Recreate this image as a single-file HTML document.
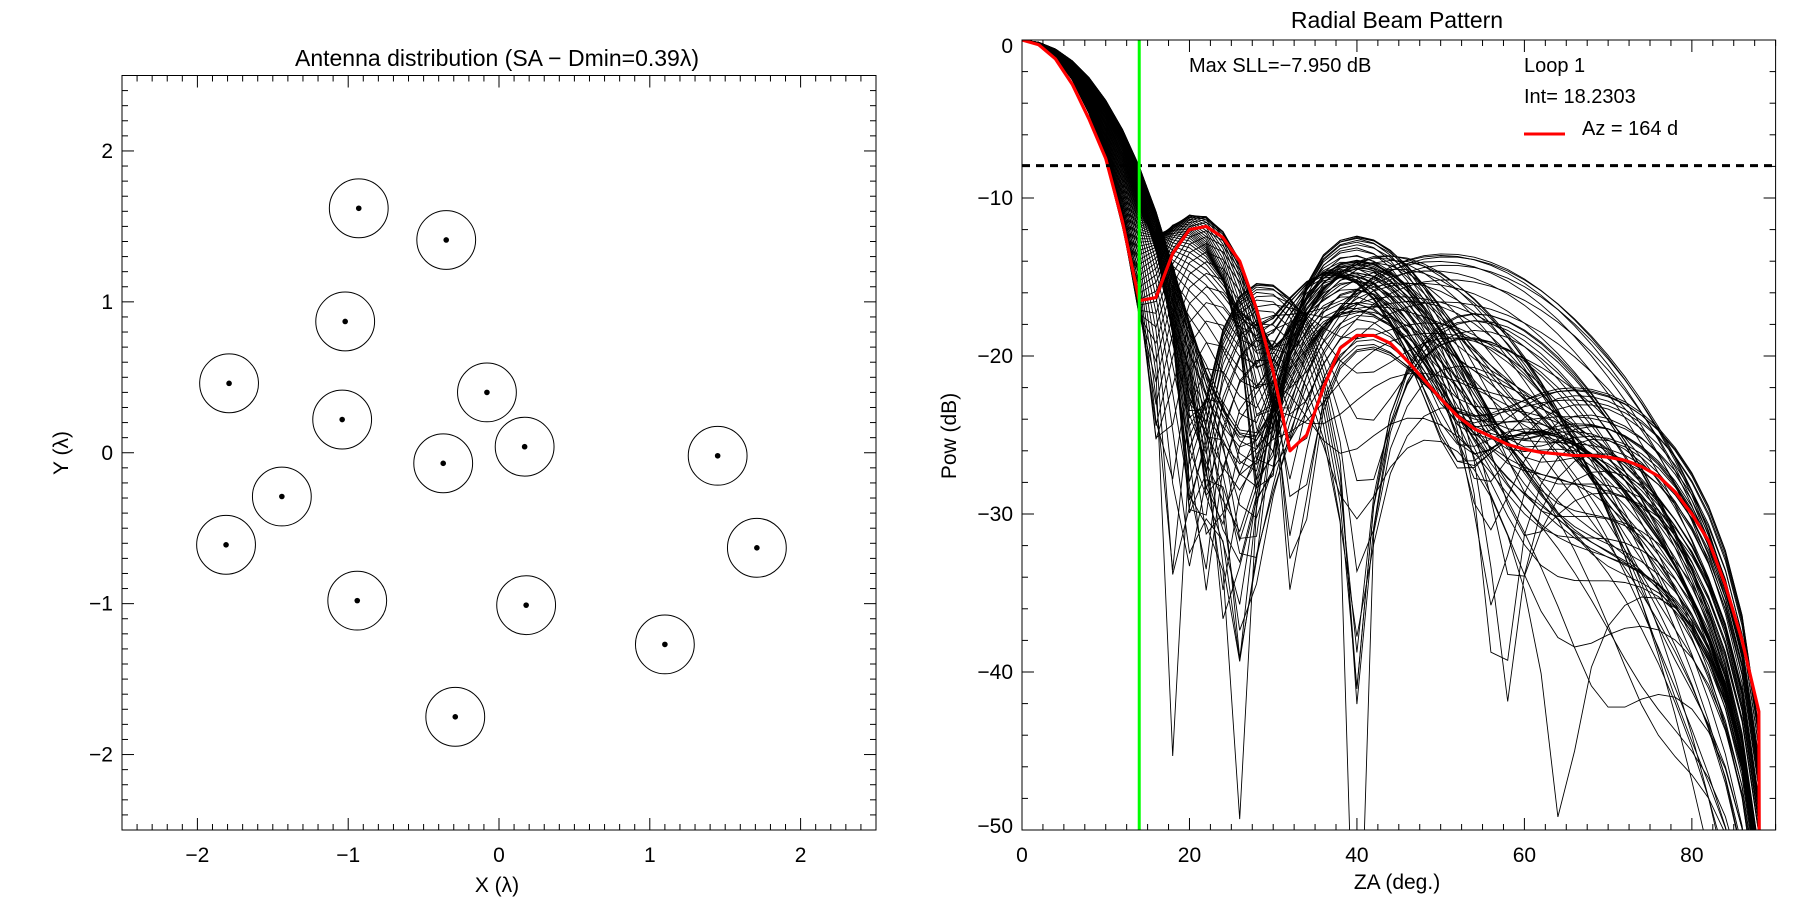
<!DOCTYPE html>
<html><head><meta charset="utf-8"><style>
html,body{margin:0;padding:0;background:#fff;width:1800px;height:900px;overflow:hidden;}
svg{display:block;font-family:"Liberation Sans",sans-serif;}
text{fill:#000;}
</style></head><body>
<svg id="fig" width="1800" height="900" viewBox="0 0 1800 900">
<defs><clipPath id="clipR"><rect x="1022" y="40" width="754" height="790"/></clipPath></defs>
<g id="left"></g>
<g id="right"></g>
</svg>
<script>
// Antenna positions (wavelengths)
const antX = [-0.93,-0.35,-1.02,-1.79,-1.04,-0.08,0.17,-0.37,-1.44,-1.81,-0.94,0.18,-0.29,1.10,1.45,1.71];
const antY = [1.62,1.41,0.87,0.46,0.22,0.40,0.04,-0.07,-0.29,-0.61,-0.98,-1.01,-1.75,-1.27,-0.02,-0.63];
const dminRadius = 0.195;
const leftTicks = [-2,-1,0,1,2];
const leftTickLabels = ["\u22122","\u22121","0","1","2"];
// Beam pattern
const zaTicks = [0,20,40,60,80];
const zaTickLabels = ["0","20","40","60","80"];
const powTicks = [0,-10,-20,-30,-40,-50];
const powTickLabels = ["0","\u221210","\u221220","\u221230","\u221240","\u221250"];
const redZA = [0,2,4,6,8,10,12,14,16,18,20,22,24,26,28,30,32,34,36,38,40,42,44,46,48,50,52,54,56,58,60,62,64,66,68,70,72,74,76,78,80,82,84,86,88,88.1];
const redPow = [0,-0.3,-1.2,-2.8,-5,-7.5,-11.5,-16.5,-16.3,-13.5,-12,-11.8,-12.5,-14,-17,-21,-26,-25,-22,-19.5,-18.7,-18.7,-19.2,-20.3,-21.5,-22.7,-23.8,-24.6,-25.1,-25.6,-25.9,-26.1,-26.2,-26.3,-26.3,-26.4,-26.6,-27,-27.6,-28.6,-30,-31.7,-34.5,-38,-42.5,-60];
const maxSLL = -7.95;
const cutZA = 14;

const NS="http://www.w3.org/2000/svg";
function mk(parent,tag,attrs,txt){const e=document.createElementNS(NS,tag);for(const k in attrs)e.setAttribute(k,attrs[k]);if(txt!==undefined)e.textContent=txt;parent.appendChild(e);return e;}

// ---------- Left plot ----------
const L=document.getElementById('left');
const lx0=122,lx1=876,ly0=75.5,ly1=830;
const sxL=v=>lx0+(v+2.5)/5*(lx1-lx0);
const syL=v=>ly1-(v+2.5)/5*(ly1-ly0);
const lframe=mk(L,'rect',{x:lx0,y:ly0,width:lx1-lx0,height:ly1-ly0,fill:'none',stroke:'#000','stroke-width':1});


for(let i=-25;i<=25;i++){
  const v=i/10, major=(i%10===0), len=major?12:6;
  const x=sxL(v), y=syL(v);
  mk(L,'line',{x1:x,y1:ly1,x2:x,y2:ly1-len,stroke:'#000'});
  mk(L,'line',{x1:x,y1:ly0,x2:x,y2:ly0+len,stroke:'#000'});
  mk(L,'line',{x1:lx0,y1:y,x2:lx0+len,y2:y,stroke:'#000'});
  mk(L,'line',{x1:lx1,y1:y,x2:lx1-len,y2:y,stroke:'#000'});
}
leftTicks.forEach((v,i)=>{
  const tx=mk(L,'text',{x:sxL(v),y:862,'font-size':21,'text-anchor':'middle'},leftTickLabels[i]);
  
  
  const ty=mk(L,'text',{x:113,y:syL(v)+7,'font-size':21,'text-anchor':'end'},leftTickLabels[i]);
  
  
});
for(let i=0;i<antX.length;i++){
  const c=mk(L,'circle',{cx:sxL(antX[i]),cy:syL(antY[i]),r:dminRadius/5*(lx1-lx0),fill:'none',stroke:'#000','stroke-width':1});
  
  
  const d=mk(L,'circle',{cx:sxL(antX[i]),cy:syL(antY[i]),r:2.8,fill:'#000'});
  
  
}
const lt=mk(L,'text',{x:497,y:66,'font-size':23,'text-anchor':'middle'},'Antenna distribution (SA \u2212 Dmin=0.39\u03bb)');


const lxt=mk(L,'text',{x:497,y:892,'font-size':21,'text-anchor':'middle'},'X (\u03bb)');


const lyt=mk(L,'text',{x:0,y:0,'font-size':21,'text-anchor':'middle',transform:'translate(68,453) rotate(-90)'},'Y (\u03bb)');



// ---------- Right plot ----------
const R=document.getElementById('right');
const rx0=1022,rx1=1775.6,ry0=40,ry1=830;
const sxR=v=>rx0+v/90*(rx1-rx0);
const syR=v=>ry0+(-v)/50*(ry1-ry0);
const curves=mk(R,'g',{'clip-path':'url(#clipR)'});


// black curves: array factor of the antenna positions at each azimuth
const N=antX.length;
for(let az=0;az<180;az+=2){
  const phi=az*Math.PI/180;
  let pts=[];
  for(let za=0;za<=88;za+=2){
    const st=Math.sin(za*Math.PI/180);
    let re=0,im=0;
    for(let k=0;k<N;k++){const ph=2*Math.PI*st*(antX[k]*Math.cos(phi)+antY[k]*Math.sin(phi));re+=Math.cos(ph);im+=Math.sin(ph);}
    let p=(re*re+im*im)/(N*N)*Math.pow(Math.cos(za*Math.PI/180),2.4);
    let db=10*Math.log10(Math.max(p,1e-8));
    pts.push(sxR(za).toFixed(1)+','+syR(db).toFixed(1));
  }
  const pl=mk(curves,'polyline',{points:pts.join(' '),fill:'none',stroke:'#000','stroke-width':0.9});
  
  
}
const red=mk(curves,'polyline',{points:redZA.map((z,i)=>sxR(z)+','+syR(redPow[i])).join(' '),fill:'none',stroke:'#ff0000','stroke-width':3.2,'stroke-linejoin':'round'});


const dash=mk(R,'line',{x1:rx0,y1:syR(maxSLL),x2:rx1,y2:syR(maxSLL),stroke:'#000','stroke-width':3,'stroke-dasharray':'8 6'});


const green=mk(R,'line',{x1:sxR(cutZA),y1:ry0,x2:sxR(cutZA),y2:ry1,stroke:'#00ff00','stroke-width':3});


const rframe=mk(R,'rect',{x:rx0,y:ry0,width:rx1-rx0,height:ry1-ry0,fill:'none',stroke:'#000','stroke-width':1});


for(let i=0;i<=36;i++){
  const v=i*2.5, len=(i%8===0)?12:6, x=sxR(v);
  mk(R,'line',{x1:x,y1:ry1,x2:x,y2:ry1-len,stroke:'#000'});
  mk(R,'line',{x1:x,y1:ry0,x2:x,y2:ry0+len,stroke:'#000'});
}
for(let i=0;i<=25;i++){
  const v=-i*2, len=(i%5===0)?12:6, y=syR(v);
  mk(R,'line',{x1:rx0,y1:y,x2:rx0+len,y2:y,stroke:'#000'});
  mk(R,'line',{x1:rx1,y1:y,x2:rx1-len,y2:y,stroke:'#000'});
}
zaTicks.forEach((v,i)=>{
  const t=mk(R,'text',{x:sxR(v),y:862,'font-size':21,'text-anchor':'middle'},zaTickLabels[i]);
  
  
});
powTicks.forEach((v,i)=>{
  let y=syR(v)+7; if(i===0)y+=6; if(i===powTicks.length-1)y-=4;
  const t=mk(R,'text',{x:1013,y:y,'font-size':21,'text-anchor':'end'},powTickLabels[i]);
  
  
});
const rt=mk(R,'text',{x:1397,y:28,'font-size':23,'text-anchor':'middle'},'Radial Beam Pattern');


const rxt=mk(R,'text',{x:1397,y:889,'font-size':21,'text-anchor':'middle'},'ZA (deg.)');


const ryt=mk(R,'text',{x:0,y:0,'font-size':21,'text-anchor':'middle',transform:'translate(956,436) rotate(-90)'},'Pow (dB)');


const sll=mk(R,'text',{x:1189,y:72,'font-size':20},'Max SLL=\u22127.950 dB');


const loop=mk(R,'text',{x:1524,y:72,'font-size':20},'Loop 1');


const intl=mk(R,'text',{x:1524,y:103,'font-size':20},'Int= 18.2303');


const lg=mk(R,'line',{x1:1524,y1:134,x2:1565,y2:134,stroke:'#ff0000','stroke-width':3});


const lgt=mk(R,'text',{x:1582,y:135,'font-size':20},'Az  =  164  d');


</script>
</body></html>
